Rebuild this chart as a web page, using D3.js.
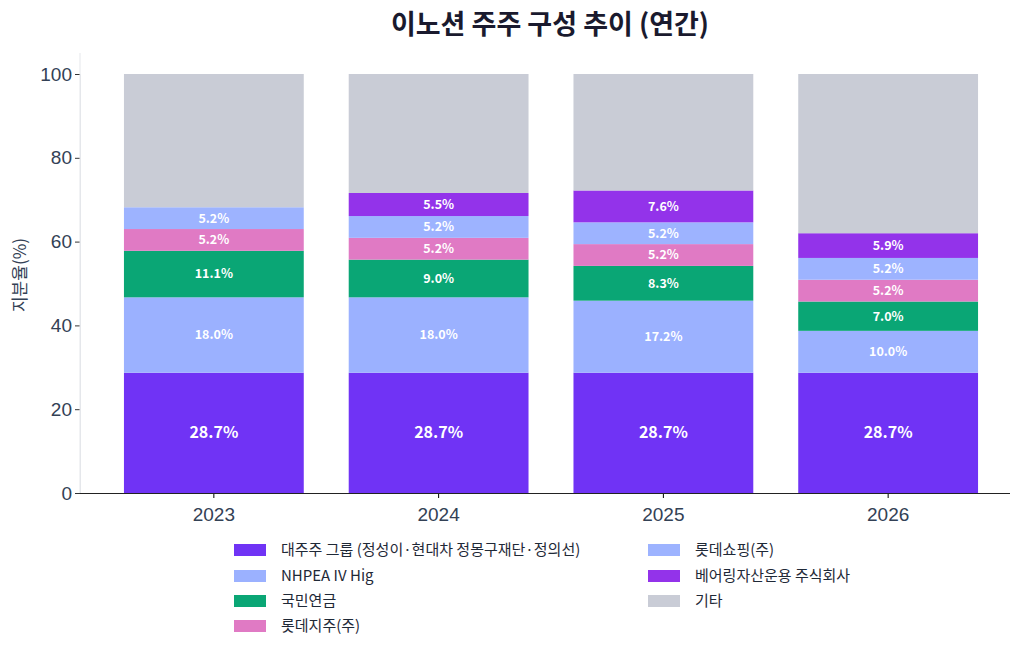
<!DOCTYPE html>
<html><head><meta charset="utf-8">
<script src="https://cdn.jsdelivr.net/npm/d3@7"></script>
<style>body{margin:0;background:#fff;font-family:"Noto Sans CJK KR","Noto Sans",sans-serif;}</style>
</head><body>
<svg id="chart" width="1030" height="653"></svg>
<script>
// data
var years = ["2023", "2024", "2025", "2026"];
var seriesNames = ["대주주 그룹 (정성이·현대차 정몽구재단·정의선)", "NHPEA IV Hig", "국민연금", "롯데지주(주)", "롯데쇼핑(주)", "베어링자산운용 주식회사", "기타"];
var majority = [28.7, 28.7, 28.7, 28.7];
var nhpea = [18.0, 18.0, 17.2, 10.0];
var nps = [11.1, 9.0, 8.3, 7.0];
var lotteHold = [5.2, 5.2, 5.2, 5.2];
var lotteShop = [5.2, 5.2, 5.2, 5.2];
var baring = [0, 5.5, 7.6, 5.9];
var yTicks = [0, 20, 40, 60, 80, 100];
var colors = ["#7033f5", "#9bb1ff", "#0aa675", "#e07ac4", "#9db3ff", "#9333ea", "#c9ccd6"];

var rows = years.map(function(y, i){
	var r = {year: y};
	var vals = [majority[i], nhpea[i], nps[i], lotteHold[i], lotteShop[i], baring[i]];
	var s = 0;
	vals.forEach(function(v, k){ r[seriesNames[k]] = v; s += v; });
	r[seriesNames[6]] = Math.max(0, 100 - s);
	return r;
});

var svg = d3.select('#chart');
var x = d3.scaleBand().domain(years).range([79, 1023]).padding(0.2);
var y = d3.scaleLinear().domain([0, 100]).range([493, 74]);
var stack = d3.stack().keys(seriesNames)(rows);

svg.append('text').attr('x', 550).attr('y', 34).attr('text-anchor', 'middle')
	.style('font-size', '27px').style('font-weight', 'bold').style('fill', '#1a1a2e')
	.text('이노션 주주 구성 추이 (연간)');

stack.forEach(function(layer, k){
	var g = svg.append('g');
	layer.forEach(function(d){
		var v = d[1] - d[0];
		if (v <= 0) return;
		g.append('rect').attr('x', x(d.data.year)).attr('width', x.bandwidth())
			.attr('y', y(d[1])).attr('height', y(d[0]) - y(d[1])).attr('fill', colors[k]);
		if (k < 6) {
			g.append('text').attr('x', x(d.data.year) + x.bandwidth()/2)
				.attr('y', (y(d[0]) + y(d[1]))/2).attr('dy', '0.35em')
				.attr('text-anchor', 'middle').style('fill', '#fff').style('font-weight', 'bold')
				.style('font-size', k == 0 ? '16px' : '12.5px')
				.text(v.toFixed(1) + '%');
		}
	});
});

// axes
var ya = svg.append('g').attr('transform', 'translate(80,0)')
	.call(d3.axisLeft(y).tickValues(yTicks).tickSize(5));
ya.select('.domain').attr('stroke', '#e5e7eb');
ya.selectAll('line').attr('stroke', '#333');
ya.selectAll('text').style('font-size', '19px').style('fill', '#334155').style('font-family', 'inherit');
svg.append('line').attr('x1', 80).attr('x2', 80).attr('y1', 53).attr('y2', 493).attr('stroke', '#e5e7eb');

var xa = svg.append('g').attr('transform', 'translate(0,493)')
	.call(d3.axisBottom(x).tickSize(5));
xa.select('.domain').remove();
xa.selectAll('text').style('font-size', '19px').style('fill', '#334155').style('font-family', 'inherit').attr('dy', '1.05em');
svg.append('line').attr('x1', 80).attr('x2', 1010).attr('y1', 493.5).attr('y2', 493.5).attr('stroke', '#222');

svg.append('text').attr('transform', 'translate(26,275) rotate(-90)').attr('text-anchor', 'middle')
	.style('font-size', '17px').style('fill', '#334155').text('지분율(%)');

// legend
var legendPos = [[234,550],[234,576],[234,601],[234,626],[648,550],[648,576],[648,601]];
seriesNames.forEach(function(n, k){
	var p = legendPos[k];
	svg.append('rect').attr('x', p[0]).attr('y', p[1]-6).attr('width', 32).attr('height', 12).attr('fill', colors[k]);
	svg.append('text').attr('x', p[0]+47).attr('y', p[1]).attr('dy', '0.35em')
		.style('font-size', '15px').style('fill', '#1f2937').text(n);
});
</script>
</body></html>
